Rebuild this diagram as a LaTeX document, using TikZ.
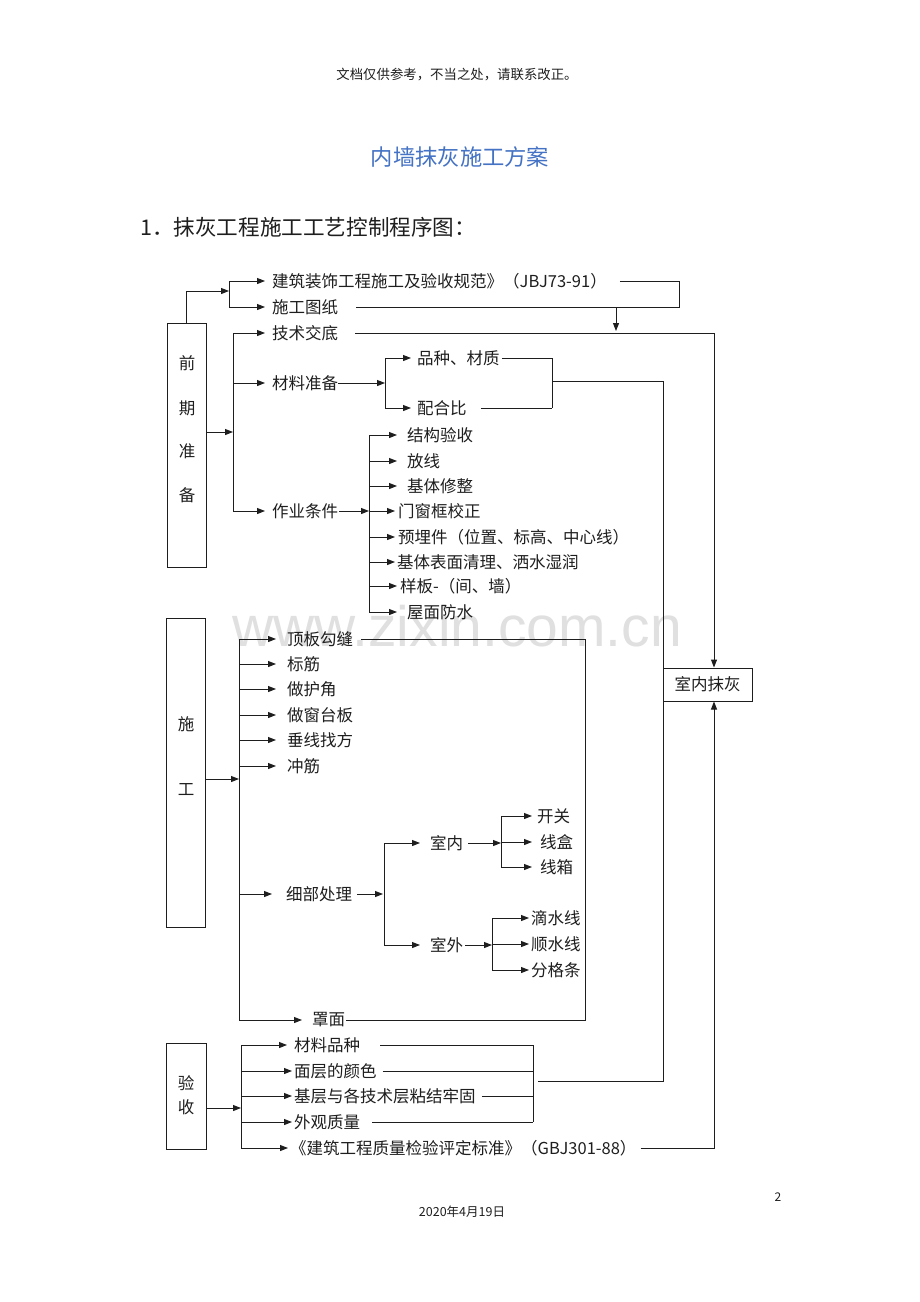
\documentclass[tikz,border=0pt]{standalone}
\usepackage{fontspec}
\newfontfamily\cjk{Noto Sans CJK SC}
\newfontfamily\wmfont{Liberation Sans}
\usetikzlibrary{arrows.meta}
\definecolor{titleblue}{RGB}{68,114,196}
\definecolor{ink}{RGB}{30,30,30}
\begin{document}
\begin{tikzpicture}[x=1pt,y=-1pt,
  t/.style={font=\cjk\fontsize{16.5}{18}\selectfont, inner sep=0pt, anchor=west, text=ink},
  bt/.style={font=\cjk\fontsize{16.5}{18}\selectfont, inner sep=0pt, text=ink},
  ln/.style={line width=1pt, draw=ink},
  arr/.style={ln, -{Triangle[length=8pt,width=6pt]}},
  bx/.style={draw=ink, line width=1pt, inner sep=0pt}]
\useasboundingbox[fill=white] (0,0) rectangle (920,1302);

% watermark
\node[anchor=base west, inner sep=0pt, font=\wmfont\fontsize{57}{57}\selectfont, text=black!12] (wm) at (232,646) {www.zixin.com.cn};

% page texts
\node[inner sep=0pt, font=\cjk\fontsize{13.4}{14}\selectfont, text=ink] (hdr) at (457,75) {文档仅供参考，不当之处，请联系改正。};
\node[inner sep=0pt, font=\cjk\fontsize{22.3}{24}\selectfont, text=titleblue] (ttl) at (460,157) {内墙抹灰施工方案};
\node[inner sep=0pt, anchor=west, font=\cjk\fontsize{21.6}{23}\selectfont, text=ink] (hd) at (140,227) {1．抹灰工程施工工艺控制程序图：};
\node[inner sep=0pt, font=\cjk\fontsize{12}{13}\selectfont, text=ink] (pg) at (778,1197) {2};
\node[inner sep=0pt, font=\cjk\fontsize{12.5}{13}\selectfont, text=ink] (dt) at (462,1212) {2020年4月19日};

% ---------- boxes ----------
\node[bx, minimum width=39pt, minimum height=244pt] (box1) at (186.5,445) {};
\node[bt] (q1) at (187,363) {前};
\node[bt] (q2) at (187,408) {期};
\node[bt] (q3) at (187,451) {准};
\node[bt] (q4) at (187,495) {备};

\node[bx, minimum width=39pt, minimum height=309pt] (box2) at (185.5,772.5) {};
\node[bt] (s1) at (186,724) {施};
\node[bt] (s2) at (186,790) {工};

\node[bx, minimum width=40pt, minimum height=106pt] (box3) at (186,1096) {};
\node[bt] (y1) at (186,1083) {验};
\node[bt] (y2) at (186,1107) {收};

\node[bx, bt, minimum width=89pt, minimum height=33pt] (snmh) at (707.5,684.5) {室内抹灰};

% ---------- section 1 texts ----------
\node[t] (ngf) at (272,281) {建筑装饰工程施工及验收规范》（JBJ73-91）};
\node[t] (ntz) at (272,307) {施工图纸};
\node[t] (njs) at (272,333) {技术交底};
\node[t] (ncl) at (272,383) {材料准备};
\node[t] (npz) at (417,358) {品种、材质};
\node[t] (nph) at (417,408) {配合比};
\node[t] (nzy) at (272,511) {作业条件};
\node[t] (z1) at (407,435) {结构验收};
\node[t] (z2) at (407,461) {放线};
\node[t] (z3) at (407,486) {基体修整};
\node[t] (z4) at (398,511) {门窗框校正};
\node[t] (z5) at (398,537) {预埋件（位置、标高、中心线）};
\node[t] (z6) at (397,562) {基体表面清理、洒水湿润};
\node[t] (z7) at (400,586) {样板-（间、墙）};
\node[t] (z8) at (407,612) {屋面防水};

% ---------- section 2 texts ----------
\node[t] (w1) at (287,639) {顶板勾缝};
\node[t] (w2) at (287,664) {标筋};
\node[t] (w3) at (287,689) {做护角};
\node[t] (w4) at (287,715) {做窗台板};
\node[t] (w5) at (287,740) {垂线找方};
\node[t] (w6) at (287,766) {冲筋};
\node[t] (nxb) at (286,894) {细部处理};
\node[t] (nsn) at (430,843) {室内};
\node[t] (nsw) at (430,945) {室外};
\node[t] (k1) at (537,816) {开关};
\node[t] (k2) at (540,842) {线盒};
\node[t] (k3) at (540,867) {线箱};
\node[t] (d1) at (531,918) {滴水线};
\node[t] (d2) at (531,944) {顺水线};
\node[t] (d3) at (531,970) {分格条};
\node[t] (nzm) at (312,1020) {罩面};

% ---------- section 3 texts ----------
\node[t] (v1) at (294,1045) {材料品种};
\node[t] (v2) at (294,1071) {面层的颜色};
\node[t] (v3) at (294,1096) {基层与各技术层粘结牢固};
\node[t] (v4) at (294,1122) {外观质量};
\node[t] (v5) at (290,1148) {《建筑工程质量检验评定标准》（GBJ301-88）};

% ---------- coordinates ----------
\coordinate (b0) at (229,0);
\coordinate (j0) at (229,291);
\coordinate (b1) at (233,0);
\coordinate (j1) at (233,432);
\coordinate (b2) at (385,0);
\coordinate (b3) at (369,0);
\coordinate (r0) at (679,281);
\coordinate (d0) at (616,307);
\coordinate (d0e) at (616,331);
\coordinate (tx) at (714,0);
\coordinate (m1) at (552,358);
\coordinate (m2) at (552,408);
\coordinate (m3) at (552,381);
\coordinate (cx) at (663,381);
\coordinate (cy) at (663,1081);
\coordinate (m4) at (538,1081);
\coordinate (b4) at (239,0);
\coordinate (j2) at (239,779);
\coordinate (b5) at (384,0);
\coordinate (b6) at (501,0);
\coordinate (b7) at (492,0);
\coordinate (r2) at (585,639);
\coordinate (b8) at (241,0);
\coordinate (j3) at (241,1108);
\coordinate (b9) at (533,0);

% ---------- section 1 connectors ----------
\draw[arr] (box1.north) |- (j0);
\draw[ln] (b0 |- ngf.west) -- (b0 |- ntz.west);
\draw[arr, shorten >=7pt] (b0 |- ngf.west) -- (ngf.west);
\draw[arr, shorten >=7pt] (b0 |- ntz.west) -- (ntz.west);
\draw[ln, shorten <=13pt] (ngf.east) -- (r0) |- ([xshift=18pt]ntz.east);
\draw[arr] (d0) -- (d0e);
\draw[arr, shorten <=17pt] (njs.east) -| (snmh.north -| tx);

\draw[arr] (box1.east |- j1) -- (j1);
\draw[ln] (b1 |- njs.west) -- (b1 |- nzy.west);
\draw[arr, shorten >=7pt] (b1 |- njs.west) -- (njs.west);
\draw[arr, shorten >=7pt] (b1 |- ncl.west) -- (ncl.west);
\draw[arr, shorten >=7pt] (b1 |- nzy.west) -- (nzy.west);

\draw[arr] (ncl.east) -- (b2 |- ncl.east);
\draw[ln] (b2 |- npz.west) -- (b2 |- nph.west);
\draw[arr, shorten >=6pt] (b2 |- npz.west) -- (npz.west);
\draw[arr, shorten >=6pt] (b2 |- nph.west) -- (nph.west);
\draw[ln, shorten <=2pt] (npz.east) -- (m1);
\draw[ln, shorten <=14pt] (nph.east) -- (m2);
\draw[ln] (m1) -- (m2);
\draw[ln] (m3) -- (cx) -- (cy) -- (m4);

\draw[arr, shorten <=1pt] (nzy.east) -- (b3 |- nzy.east);
\draw[ln] (b3 |- z1.west) -- (b3 |- z8.west);
\draw[arr, shorten >=10pt] (b3 |- z1.west) -- (z1.west);
\draw[arr, shorten >=10pt] (b3 |- z2.west) -- (z2.west);
\draw[arr, shorten >=10pt] (b3 |- z3.west) -- (z3.west);
\draw[arr, shorten >=3pt] (b3 |- z4.west) -- (z4.west);
\draw[arr, shorten >=3pt] (b3 |- z5.west) -- (z5.west);
\draw[arr, shorten >=2pt] (b3 |- z6.west) -- (z6.west);
\draw[arr, shorten >=3pt] (b3 |- z7.west) -- (z7.west);
\draw[arr, shorten >=10pt] (b3 |- z8.west) -- (z8.west);

% ---------- section 2 connectors ----------
\draw[arr] (box2.east |- j2) -- (j2);
\draw[ln] (b4 |- w1.west) -- (b4 |- nzm.west);
\draw[arr, shorten >=11pt] (b4 |- w1.west) -- (w1.west);
\draw[arr, shorten >=11pt] (b4 |- w2.west) -- (w2.west);
\draw[arr, shorten >=11pt] (b4 |- w3.west) -- (w3.west);
\draw[arr, shorten >=11pt] (b4 |- w4.west) -- (w4.west);
\draw[arr, shorten >=11pt] (b4 |- w5.west) -- (w5.west);
\draw[arr, shorten >=11pt] (b4 |- w6.west) -- (w6.west);
\draw[arr, shorten >=14pt] (b4 |- nxb.west) -- (nxb.west);
\draw[arr, shorten >=10pt] (b4 |- nzm.west) -- (nzm.west);
\draw[ln, shorten <=8pt] (w1.east) -- (r2) |- ([xshift=1pt]nzm.east);

\draw[arr, shorten <=5pt, shorten >=1pt] (nxb.east) -- (b5 |- nxb.east);
\draw[ln] (b5 |- nsn.west) -- (b5 |- nsw.west);
\draw[arr, shorten >=10pt] (b5 |- nsn.west) -- (nsn.west);
\draw[arr, shorten >=10pt] (b5 |- nsw.west) -- (nsw.west);

\draw[arr, shorten <=5pt] (nsn.east) -- (b6 |- nsn.east);
\draw[ln] (b6 |- k1.west) -- (b6 |- k3.west);
\draw[arr, shorten >=5pt] (b6 |- k1.west) -- (k1.west);
\draw[arr, shorten >=8pt] (b6 |- k2.west) -- (k2.west);
\draw[arr, shorten >=8pt] (b6 |- k3.west) -- (k3.west);

\draw[arr, shorten <=2pt] (nsw.east) -- (b7 |- nsw.east);
\draw[ln] (b7 |- d1.west) -- (b7 |- d3.west);
\draw[arr, shorten >=2pt] (b7 |- d1.west) -- (d1.west);
\draw[arr, shorten >=2pt] (b7 |- d2.west) -- (d2.west);
\draw[arr, shorten >=2pt] (b7 |- d3.west) -- (d3.west);

% ---------- section 3 connectors ----------
\draw[arr] (box3.east |- j3) -- (j3);
\draw[ln] (b8 |- v1.west) -- (b8 |- v5.west);
\draw[arr, shorten >=7pt] (b8 |- v1.west) -- (v1.west);
\draw[arr, shorten >=2pt] (b8 |- v2.west) -- (v2.west);
\draw[arr, shorten >=2pt] (b8 |- v3.west) -- (v3.west);
\draw[arr, shorten >=2pt] (b8 |- v4.west) -- (v4.west);
\draw[arr, shorten >=2pt] (b8 |- v5.west) -- (v5.west);

\draw[ln, shorten <=20pt] (v1.east) -- (b9 |- v1.east);
\draw[ln, shorten <=6pt] (v2.east) -- (b9 |- v2.east);
\draw[ln, shorten <=6pt] (v3.east) -- (b9 |- v3.east);
\draw[ln, shorten <=12pt] (v4.east) -- (b9 |- v4.east);
\draw[ln] (b9 |- v1.east) -- (b9 |- v4.east);
\draw[arr, shorten <=4pt] (v5.east) -| (snmh.south -| tx);
\end{tikzpicture}
\end{document}
